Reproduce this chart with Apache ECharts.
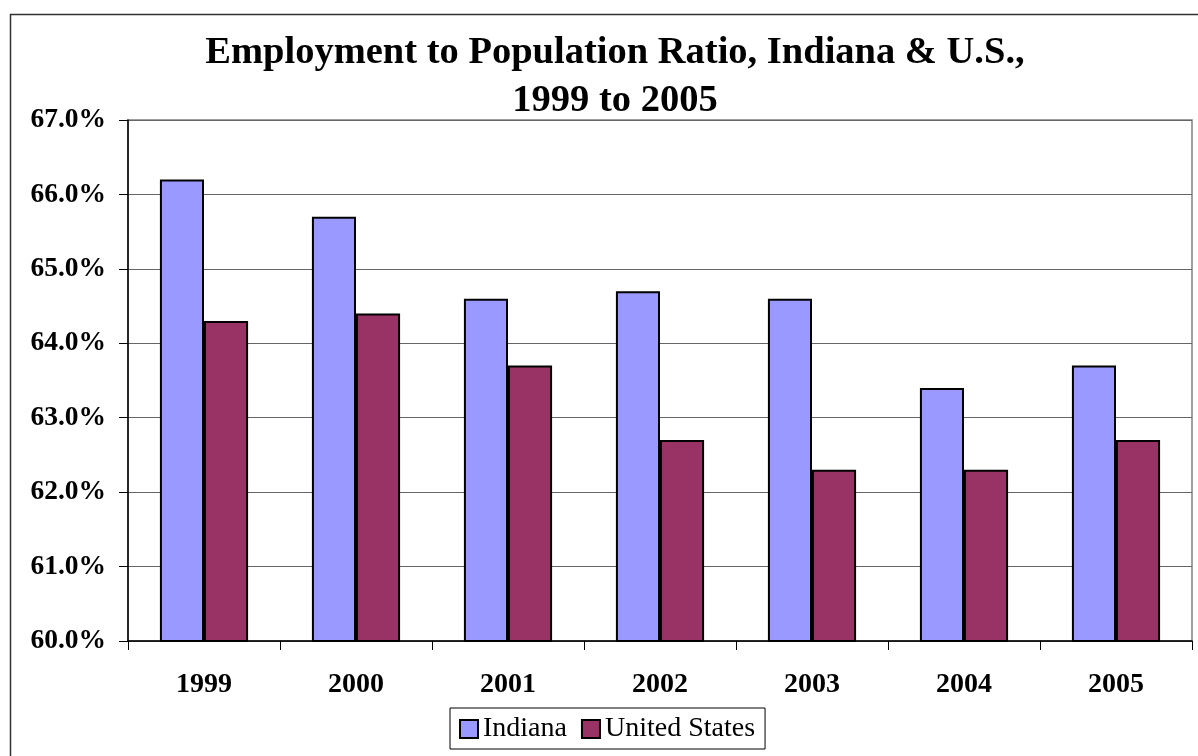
<!DOCTYPE html>
<html>
<head>
<meta charset="utf-8">
<script src="https://cdn.jsdelivr.net/npm/echarts@6/dist/echarts.min.js"></script>
<style>
html,body{margin:0;padding:0;background:#fff;}
#chart{width:1198px;height:756px;}
</style>
</head>
<body>
<div id="chart"></div>
<script>
const years = ['1999','2000','2001','2002','2003','2004','2005'];
const indiana = [66.2, 65.7, 64.6, 64.7, 64.6, 63.4, 63.7];
const unitedStates = [64.3, 64.4, 63.7, 62.7, 62.3, 62.3, 62.7];
const yMin = 60, yMax = 67, yStep = 1;

const serif = '"Liberation Serif", "Times New Roman", serif';
const chart = echarts.init(document.getElementById('chart'));
chart.setOption({
  animation: false,
  backgroundColor: '#fff',
  graphic: [{
    type: 'rect', left: 8, top: 12, silent: true,
    shape: {width: 1300, height: 900},
    style: {fill: 'none', stroke: '#333', lineWidth: 1.5}
  }],
  title: {
    text: 'Employment to Population Ratio, Indiana & U.S.,\n1999 to 2005',
    left: 610, top: 24, textAlign: 'center',
    textStyle: {fontFamily: serif, fontWeight: 'bold', fontSize: 38.5, lineHeight: 48, color: '#000'}
  },
  legend: {
    bottom: 7, left: 450,
    data: ['Indiana', 'United States'],
    itemWidth: 18, itemHeight: 18, itemGap: 14,
    icon: 'rect',
    padding: [7, 10, 6, 9],
    borderColor: '#000', borderWidth: 1,
    textStyle: {fontFamily: serif, fontSize: 28, color: '#000', padding: [2, 0, 0, 0]},
    itemStyle: {borderColor: '#000', borderWidth: 2}
  },
  grid: {left: 128, right: 6, top: 120, bottom: 115, show: true, borderColor: '#808080', borderWidth: 1.5},
  xAxis: {
    type: 'category', data: years,
    axisLine: {lineStyle: {color: '#000', width: 1.5}},
    axisTick: {show: true, inside: false, length: 9, lineStyle: {color: '#000'}},
    axisLabel: {fontFamily: serif, fontWeight: 'bold', fontSize: 28, color: '#000', margin: 30}
  },
  yAxis: {
    type: 'value', min: yMin, max: yMax, interval: yStep,
    axisLine: {show: true, lineStyle: {color: '#000', width: 1.5}},
    axisTick: {show: true, length: 9, lineStyle: {color: '#000'}},
    splitLine: {lineStyle: {color: '#666', width: 1}},
    axisLabel: {fontFamily: serif, fontWeight: 'bold', fontSize: 27.5, color: '#000', margin: 22,
      formatter: v => v.toFixed(1) + '%'}
  },
  series: [
    {name: 'Indiana', type: 'bar', data: indiana, barGap: '0%', barCategoryGap: '42%',
      itemStyle: {color: '#9999FF', borderColor: '#000', borderWidth: 2}},
    {name: 'United States', type: 'bar', data: unitedStates, barGap: '0%', barCategoryGap: '42%',
      itemStyle: {color: '#993366', borderColor: '#000', borderWidth: 2}}
  ]
});
</script>
</body>
</html>
